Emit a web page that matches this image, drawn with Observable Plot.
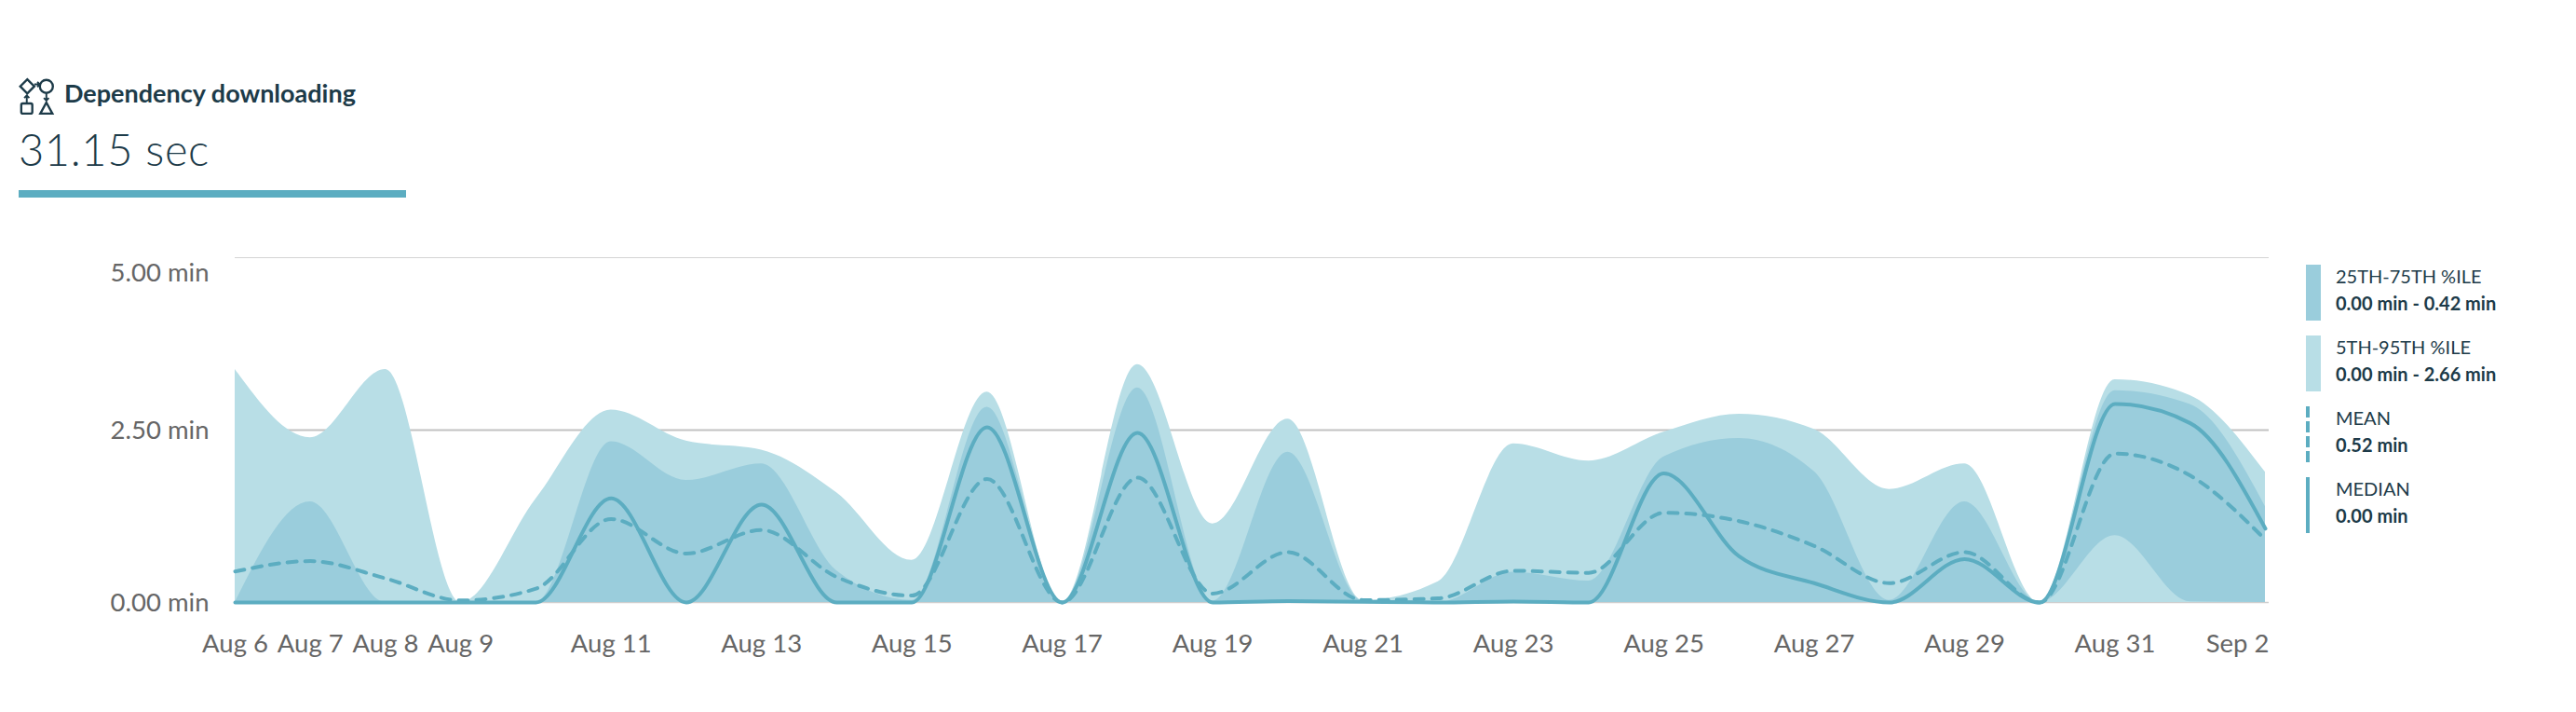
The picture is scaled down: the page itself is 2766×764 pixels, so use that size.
<!DOCTYPE html>
<html>
<head>
<meta charset="utf-8">
<script src="https://cdn.jsdelivr.net/npm/d3@7"></script>
<script src="https://cdn.jsdelivr.net/npm/@observablehq/plot@0.6"></script>
<style>
html,body{margin:0;padding:0;background:#fff;font-family:Lato,sans-serif;color:#1d3b49}
#page{position:relative;width:2766px;height:764px;overflow:hidden}
#head{position:relative;height:240px}
#icon{position:absolute;left:19px;top:83px}
#title{position:absolute;left:69px;top:82px;font-size:27px;font-weight:700;line-height:36px;white-space:nowrap}
#value{position:absolute;left:20px;top:132px;font-size:47px;font-weight:300;line-height:56px;white-space:nowrap;letter-spacing:.6px}
#bar{position:absolute;left:20px;top:204px;width:416px;height:8px;background:#5cadc1}
#chart{position:absolute;left:0;top:240px}
.li{position:absolute;left:2476px;width:280px;height:60px}
.sw{position:absolute;left:0;top:0;height:60px}
.li .a{position:absolute;left:32px;top:0;font-size:20px;line-height:24px;white-space:nowrap}
.li .b{position:absolute;left:32px;top:29px;font-size:20px;font-weight:700;line-height:24px;white-space:nowrap}
</style>
</head>
<body>
<div id="page">
  <div id="head">
    <svg id="icon" width="40" height="41" viewBox="0 0 36 38" fill="none" stroke="#1d3b49" stroke-width="2.200">
      <path d="M9 2 L16 9 L9 16 L2 9 Z"/>
      <circle cx="28" cy="9" r="6.500"/>
      <rect x="3" y="26" width="11" height="10" rx="1.500"/>
      <path d="M28 25 L34 36 L22 36 Z"/>
      <path d="M16 7 H21 M19 4.500 L21.500 7 L19 9.500" stroke-width="1.800"/>
      <path d="M8.500 25 V18 M6 20.500 L8.500 18 L11 20.500" stroke-width="1.800"/>
      <path d="M28 16 V23 M25.500 20.500 L28 23 L30.500 20.500" stroke-width="1.800"/>
    </svg>
    <div id="title">Dependency downloading</div>
    <div id="value">31.15 sec</div>
    <div id="bar"></div>
  </div>
  <div id="chart"></div>
  <div id="legend"></div>
</div>
<script>
const startDay = "2019-08-06";
const p95 = [3.38,2.39,3.38,0,1.5,2.79,2.34,2.21,1.59,0.61,3.05,0,3.45,1.14,2.66,0.03,0.3,2.30,2.05,2.47,2.73,2.51,1.64,2.01,0,3.23,3.0,1.89];
const p75 = [0,1.46,0,0,0,2.33,1.77,2.01,0.46,0.03,2.83,0,3.11,0.02,2.18,0.02,0,0.44,0.31,2.11,2.38,1.9,0.03,1.46,0,3.07,2.87,1.39];
const p25 = [0,0,0,0,0,0,0,0,0,0,0,0,0,0,0,0,0,0,0,0,0,0,0,0,0,0.97,0.01,0];
const p5 = [0,0,0,0,0,0,0,0,0,0,0,0,0,0,0,0,0,0,0,0,0,0,0,0,0,0,0,0];
const median = [0,0,0,0,0,1.51,0,1.42,0,0,2.54,0,2.46,0,0.02,0.01,0,0.015,0,1.87,0.67,0.28,0,0.63,0,2.88,2.6,1.07];
const mean = [0.45,0.60,0.35,0.03,0.2,1.21,0.71,1.05,0.37,0.1,1.79,0,1.81,0.13,0.73,0.035,0.06,0.46,0.43,1.30,1.18,0.82,0.28,0.73,0,2.16,1.84,0.91];
const tickDays = ["2019-08-06","2019-08-07","2019-08-08","2019-08-09","2019-08-11","2019-08-13","2019-08-15","2019-08-17","2019-08-19","2019-08-21","2019-08-23","2019-08-25","2019-08-27","2019-08-29","2019-08-31"];
const lastTickDay = "2019-09-02";
const yTicks = [0,2.5];
const yTopTick = [5];
const legendItems = [
  ["25TH-75TH %ILE","0.00 min - 0.42 min"],
  ["5TH-95TH %ILE","0.00 min - 2.66 min"],
  ["MEAN","0.52 min"],
  ["MEDIAN","0.00 min"]
];
const cLight="#b8dee6", cMid="#9acddc", cLine="#5cadc1", cText="#666";

const rows = mean.map((m,i)=>({
  date:new Date(Date.parse(startDay+"T00:00:00Z")+i*864e5),
  p5:p5[i],p25:p25[i],p75:p75[i],p95:p95[i],median:median[i],mean:m
}));
const fmtDay = d3.utcFormat("%b %-d");
const fmtMin = d=>d.toFixed(2)+" min";
const toDate = s=>new Date(s+"T00:00:00Z");

const plot = Plot.plot({
  width:2766,height:524,
  marginLeft:252,marginRight:334,marginTop:36,marginBottom:118,
  style:{fontFamily:"Lato,sans-serif",background:"transparent",overflow:"visible"},
  x:{type:"utc",domain:[rows[0].date,rows[rows.length-1].date]},
  y:{domain:[0,5]},
  marks:[
    Plot.ruleY([5],{stroke:"#d4d4d4",strokeWidth:1,insetRight:-4}),
    Plot.ruleY([2.5],{stroke:"#c2c2c2",strokeWidth:2,insetRight:-4}),
    Plot.ruleY([0],{stroke:"#cfcfcf",strokeWidth:1.500,insetRight:-4}),
    Plot.areaY(rows,{x:"date",y1:"p5",y2:"p95",fill:cLight,curve:"monotone-x"}),
    Plot.areaY(rows,{x:"date",y1:"p25",y2:"p75",fill:cMid,curve:"monotone-x"}),
    Plot.lineY(rows,{x:"date",y:"mean",stroke:cLine,strokeWidth:4,strokeDasharray:"10 9",curve:"monotone-x"}),
    Plot.lineY(rows,{x:"date",y:"median",stroke:cLine,strokeWidth:4,curve:"monotone-x"}),
    Plot.axisY({ticks:yTicks,tickFormat:fmtMin,tickSize:0,tickPadding:28,fontSize:27.500,fill:cText,label:null,dy:1}),
    Plot.axisY({ticks:yTopTick,tickFormat:fmtMin,tickSize:0,tickPadding:28,fontSize:27.500,fill:cText,label:null,dy:17}),
    Plot.axisX({ticks:tickDays.map(toDate),tickFormat:fmtDay,tickSize:0,tickPadding:34,fontSize:27.500,fill:cText,label:null}),
    Plot.text([toDate(lastTickDay)],{x:d=>d,frameAnchor:"bottom",text:fmtDay,textAnchor:"end",lineAnchor:"top",dx:4,dy:34,fontSize:27.500,fill:cText})
  ]
});
document.getElementById("chart").append(plot);

const legend=document.getElementById("legend");
const swatchStyle=[
  `left:0;width:16px;background:${cMid}`,
  `left:0;width:16px;background:${cLight}`,
  `left:0;width:4px;background:repeating-linear-gradient(to bottom,${cLine} 0 12px,transparent 12px 16px)`,
  `left:0;width:4px;background:${cLine}`
];
legendItems.forEach(([a,b],i)=>{
  const el=document.createElement("div");
  el.className="li";el.style.top=(284+76*i)+"px";
  el.innerHTML=`<div class="sw" style="${swatchStyle[i]}"></div><div class="a">${a}</div><div class="b">${b}</div>`;
  legend.append(el);
});
</script>
</body>
</html>
